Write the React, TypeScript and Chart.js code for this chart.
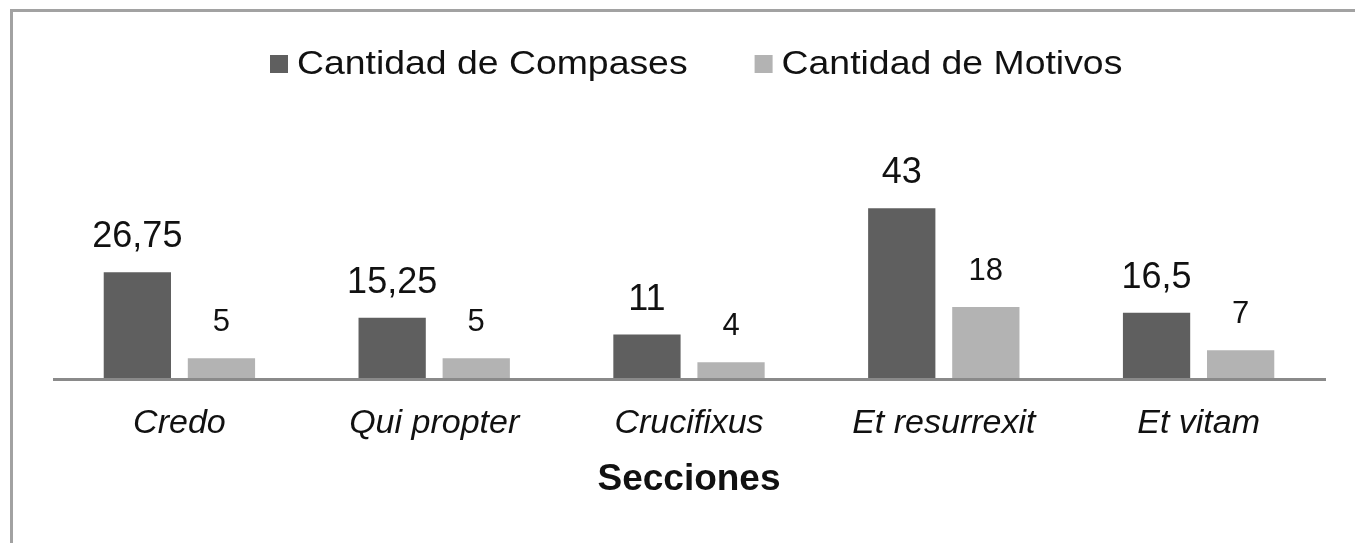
import { useEffect, useRef } from 'react';
import { Chart, registerables } from 'chart.js';

Chart.register(...registerables);

const categories = ['Credo', 'Qui propter', 'Crucifixus', 'Et resurrexit', 'Et vitam'];
const compases = [26.75, 15.25, 11, 43, 16.5];
const motivos = [5, 5, 4, 18, 7];
const seriesNames = ['Cantidad de Compases', 'Cantidad de Motivos'];
const seriesColors = ['#5f5f5f', '#b3b3b3'];
const axisTitle = 'Secciones';

const FONT = '"Liberation Sans", Arial, sans-serif';

const fmt = (v: number) => String(v).replace('.', ',');

const framePlugin = {
  id: 'frame',
  beforeDraw(chart: any) {
    const { ctx, width, height } = chart;
    ctx.save();
    ctx.fillStyle = '#ffffff';
    ctx.fillRect(0, 0, width, height);
    ctx.fillStyle = '#a2a2a2';
    ctx.fillRect(10, 9, 3, height - 9);
    ctx.fillRect(10, 9, width - 10, 3);
    ctx.restore();
  },
};

const axisLinePlugin = {
  id: 'axisLine',
  afterDatasetsDraw(chart: any) {
    const { ctx, chartArea } = chart;
    ctx.save();
    ctx.fillStyle = '#8a8a8a';
    ctx.fillRect(chartArea.left + 1, chartArea.bottom, chartArea.right - chartArea.left - 1, 3);
    ctx.restore();
  },
};

const valueLabelPlugin = {
  id: 'valueLabels',
  afterDatasetsDraw(chart: any) {
    const { ctx } = chart;
    ctx.save();
    ctx.textAlign = 'center';
    ctx.textBaseline = 'alphabetic';
    ctx.fillStyle = '#111111';
    chart.data.datasets.forEach((ds: any, di: number) => {
      const meta = chart.getDatasetMeta(di);
      ctx.font = di === 0 ? `36px ${FONT}` : `31px ${FONT}`;
      const gap = di === 0 ? 25 : 27;
      meta.data.forEach((bar: any, i: number) => {
        ctx.fillText(fmt(ds.data[i]), bar.x, bar.y - gap);
      });
    });
    ctx.restore();
  },
};

const legendPlugin = {
  id: 'customLegend',
  afterDraw(chart: any) {
    const { ctx } = chart;
    const sx = 1.15;
    ctx.save();
    ctx.font = `32.5px ${FONT}`;
    ctx.textBaseline = 'alphabetic';
    ctx.textAlign = 'left';
    let x = 270;
    chart.data.datasets.forEach((ds: any) => {
      ctx.fillStyle = ds.backgroundColor;
      ctx.fillRect(x, 55, 18, 18);
      x += 27;
      const w = ctx.measureText(ds.label).width * sx;
      ctx.save();
      ctx.translate(x, 74);
      ctx.scale(sx, 1);
      ctx.fillStyle = '#111111';
      ctx.fillText(ds.label, 0, 0);
      ctx.restore();
      x += w + 67;
    });
    ctx.restore();
  },
};

export default function App() {
  const canvasRef = useRef<HTMLCanvasElement | null>(null);

  useEffect(() => {
    if (!canvasRef.current) return;
    const chart = new Chart(canvasRef.current, {
      type: 'bar',
      data: {
        labels: categories,
        datasets: [
          {
            label: seriesNames[0],
            data: compases,
            backgroundColor: seriesColors[0],
            categoryPercentage: 0.66,
            barPercentage: 0.8,
          },
          {
            label: seriesNames[1],
            data: motivos,
            backgroundColor: seriesColors[1],
            categoryPercentage: 0.66,
            barPercentage: 0.8,
          },
        ],
      },
      options: {
        animation: false,
        responsive: true,
        maintainAspectRatio: false,
        layout: { padding: { left: 52, right: 29, top: 180.5, bottom: 0 } },
        plugins: {
          legend: { display: false },
          tooltip: { enabled: false },
        },
        scales: {
          x: {
            grid: { display: false, drawTicks: false },
            border: { display: false },
            ticks: {
              color: '#111111',
              padding: 29,
              font: { family: FONT, size: 34, style: 'italic', lineHeight: 1 },
            },
            title: {
              display: true,
              text: axisTitle,
              color: '#111111',
              font: { family: FONT, size: 37, weight: 'bold', lineHeight: 1 },
              padding: { top: 0, bottom: 45 },
            },
            afterFit: (scale: any) => {
              scale.height = 165;
            },
          },
          y: {
            display: false,
            min: 0,
            max: 50,
          },
        },
      },
      plugins: [framePlugin, axisLinePlugin, valueLabelPlugin, legendPlugin],
    } as any);
    return () => chart.destroy();
  }, []);

  return (
    <div style={{ position: 'absolute', left: 0, top: 0, width: 1355, height: 543 }}>
      <canvas ref={canvasRef} />
    </div>
  );
}
